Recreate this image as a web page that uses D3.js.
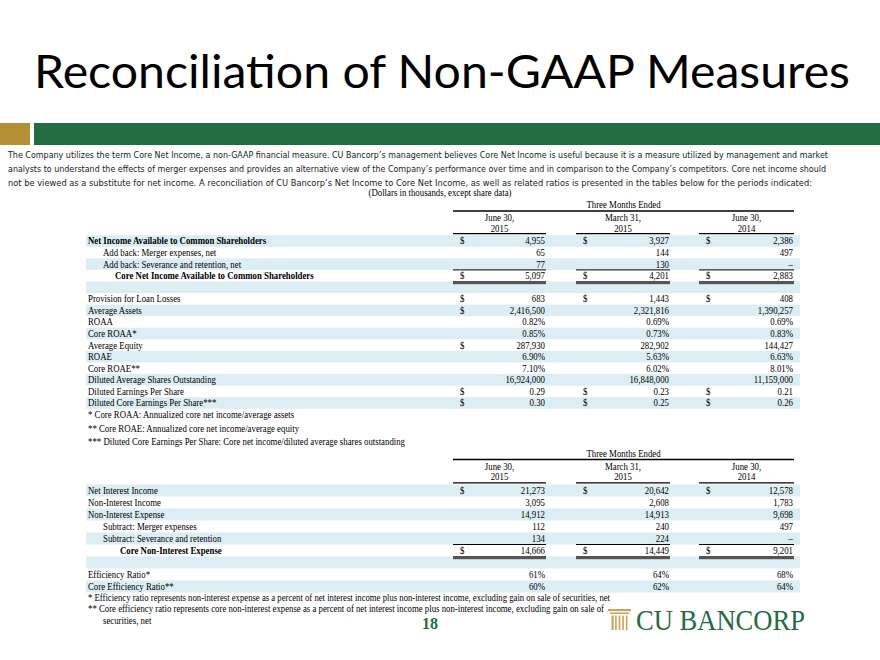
<!DOCTYPE html>
<html><head><meta charset="utf-8">
<script src="https://cdn.jsdelivr.net/npm/d3@7"></script>
<style>html,body{margin:0;padding:0;background:#fff;}svg{display:block;}</style>
</head><body>
<script>
// ---------- DATA ----------
const titleText = "Reconciliation of Non-GAAP Measures";
const introLines = [
  "The Company utilizes the term Core Net Income, a non-GAAP financial measure.  CU Bancorp\u2019s management believes Core Net Income is useful because it is a measure utilized by management and market",
  "analysts to understand the effects of merger expenses and provides an alternative view of the Company\u2019s performance over time and in comparison to the Company\u2019s competitors.  Core net income should",
  "not be viewed as a substitute for net income.  A reconciliation of CU Bancorp\u2019s Net Income to Core Net Income, as well as related ratios is presented in the tables below for the periods indicated:"
];
const unitsNote = "(Dollars in thousands, except share data)";
const groupHeader = "Three Months Ended";
const periodLabels = ["June 30,", "March 31,", "June 30,"];
const periodYears = ["2015", "2015", "2014"];

const t1Labels = [
  "Net Income Available to Common Shareholders",
  "Add back:  Merger expenses, net",
  "Add back:  Severance and retention, net",
  "Core Net Income Available to Common Shareholders",
  "",
  "Provision for Loan Losses",
  "Average Assets",
  "ROAA",
  "Core ROAA*",
  "Average Equity",
  "ROAE",
  "Core ROAE**",
  "Diluted Average Shares Outstanding",
  "Diluted Earnings Per Share",
  "Diluted Core Earnings Per Share***"
];
const t1Jun2015 = ["4,955","65","77","5,097","","683","2,416,500","0.82%","0.85%","287,930","6.90%","7.10%","16,924,000","0.29","0.30"];
const t1Mar2015 = ["3,927","144","130","4,201","","1,443","2,321,816","0.69%","0.73%","282,902","5.63%","6.02%","16,848,000","0.23","0.25"];
const t1Jun2014 = ["2,386","497","\u2013","2,883","","408","1,390,257","0.69%","0.83%","144,427","6.63%","8.01%","11,159,000","0.21","0.26"];
// which columns show a "$" sign, per row (0 none, 1 first column only, 3 all)
const t1Dollar = [3,0,0,3,0,3,1,0,0,1,0,0,0,3,3];
const t1Style  = ["bold","indent","indent","total","blank","","","","","","","","","",""];
const t1Notes = [
  "* Core ROAA: Annualized core net income/average assets",
  "** Core ROAE: Annualized core net income/average equity",
  "*** Diluted Core Earnings Per Share: Core net income/diluted average shares outstanding"
];

const t2Labels = [
  "Net Interest Income",
  "Non-Interest Income",
  "Non-Interest Expense",
  "Subtract:  Merger expenses",
  "Subtract:  Severance and retention",
  "Core Non-Interest Expense",
  "",
  "Efficiency Ratio*",
  "Core Efficiency Ratio**"
];
const t2Jun2015 = ["21,273","3,095","14,912","112","134","14,666","","61%","60%"];
const t2Mar2015 = ["20,642","2,608","14,913","240","224","14,449","","64%","62%"];
const t2Jun2014 = ["12,578","1,783","9,698","497","\u2013","9,201","","68%","64%"];
const t2Dollar = [3,0,0,0,0,3,0,0,0];
const t2Style  = ["","","","indent","indent","total","blank","",""];
const t2Notes = [
  "* Efficiency ratio represents non-interest expense as a percent of net interest income plus non-interest income, excluding gain on sale of securities, net",
  "** Core efficiency ratio represents core non-interest expense as a percent of net interest income plus non-interest income, excluding gain on sale of",
  "securities, net"
];
const pageNumber = "18";
const logoText = "CU BANCORP";

// ---------- DRAWING ----------
const W = 880, H = 660;
const GREEN = "#216c40", GOLD = "#b58f33", BLUE = "#dbeef4";
const SERIF = "'Liberation Serif','Times New Roman',serif";
const SANS = "'DejaVu Sans','Liberation Sans',sans-serif";

const svg = d3.select("body").append("svg").attr("width", W).attr("height", H);

function txt(x, y, s, o = {}) {
  const t = svg.append("text")
    .attr("transform", `translate(${x},${y}) scale(${o.sx || 1},1)`)
    .attr("text-anchor", o.anchor || "start")
    .attr("font-family", o.family || SERIF)
    .attr("font-size", o.size || 10)
    .attr("font-weight", o.weight || "normal")
    .attr("fill", o.fill || "#000")
    .text(s);
  if (o.len) t.attr("textLength", o.len).attr("lengthAdjust", "spacingAndGlyphs");
  return t;
}

// title
txt(34, 88, titleText, {family: "'Lato','Noto Sans',sans-serif", size: 46, len: 816, fill: "#000"});
// band
svg.append("rect").attr("x", 0).attr("y", 123).attr("width", 30).attr("height", 22).attr("fill", GOLD);
svg.append("rect").attr("x", 34).attr("y", 123).attr("width", W - 34).attr("height", 22).attr("fill", GREEN);
// intro paragraph
const introLen = [820, 818, 804];
introLines.forEach((l, i) => txt(8, 158 + i * 14, l, {family: SANS, size: 8.4, len: introLen[i], fill: "#1a1a1a"}));

txt(440, 196, unitsNote, {anchor: "middle", size: 10, sx: 0.88});

// column geometry
const cols = [{l: 453, r: 546}, {l: 576, r: 670}, {l: 699, r: 794}];
const bandX0 = 86, bandX1 = 800;
const SX = 0.88;

function drawTable(cfg) {
  const {labels, values, dollar, style, headTop, rowTop, rowH} = cfg;
  const n = labels.length;
  const y = d3.scaleBand().domain(d3.range(n)).range([rowTop, rowTop + n * rowH]).padding(0);

  // header
  txt((cols[0].l + cols[2].r) / 2, headTop, groupHeader, {anchor: "middle", size: 10, sx: SX});
  svg.append("line").attr("x1", cols[0].l).attr("x2", cols[2].r)
    .attr("y1", headTop + 3).attr("y2", headTop + 3).attr("stroke", "#000").attr("stroke-width", 1.6);
  cols.forEach((c, i) => {
    const cx = (c.l + c.r) / 2;
    txt(cx, headTop + 13, periodLabels[i], {anchor: "middle", size: 10, sx: SX});
    txt(cx, headTop + 23.5, periodYears[i], {anchor: "middle", size: 10, sx: SX});
    svg.append("line").attr("x1", c.l).attr("x2", c.r)
      .attr("y1", rowTop - 1.6).attr("y2", rowTop - 1.6).attr("stroke", "#000").attr("stroke-width", 1.3);
  });

  // bands
  svg.selectAll(null).data(d3.range(n).filter(i => i % 2 === 0)).enter().append("rect")
    .attr("x", bandX0).attr("width", bandX1 - bandX0)
    .attr("y", i => y(i)).attr("height", y.bandwidth()).attr("fill", BLUE);

  // rows
  labels.forEach((lab, i) => {
    const base = y(i) + y.bandwidth() / 2 + 3.4;
    const st = style[i];
    if (st === "blank") return;
    let x = 88, weight = "normal";
    if (st === "indent") x = 103;
    if (st === "bold") weight = "bold";
    if (st === "total") { weight = "bold"; x = cfg.totalIndent; }
    txt(x, base, lab, {size: 10, weight, sx: SX});
    cols.forEach((c, j) => {
      const v = values[j][i];
      txt(c.r - 1, base, v, {anchor: "end", size: 10, sx: SX});
      if (dollar[i] === 3 || (dollar[i] === 1 && j === 0)) txt(c.l + 7, base, "$", {size: 10, sx: SX});
    });
    if (st === "total") {
      cols.forEach(c => {
        svg.append("line").attr("x1", c.l).attr("x2", c.r).attr("y1", y(i)).attr("y2", y(i))
          .attr("stroke", "#000").attr("stroke-width", 1);
        svg.append("rect").attr("x", c.l).attr("width", c.r - c.l)
          .attr("y", y(i) + y.bandwidth() - 0.5).attr("height", 3.2).attr("fill", "#555");
      });
    }
  });
  return y;
}

const y1 = drawTable({labels: t1Labels, values: [t1Jun2015, t1Mar2015, t1Jun2014], dollar: t1Dollar,
  style: t1Style, headTop: 208, rowTop: 235.2, rowH: 11.57, totalIndent: 115});
t1Notes.forEach((s, i) => txt(88, 418 + i * 13.5, s, {size: 10, sx: SX}));

const y2 = drawTable({labels: t2Labels, values: [t2Jun2015, t2Mar2015, t2Jun2014], dollar: t2Dollar,
  style: t2Style, headTop: 456.5, rowTop: 484.5, rowH: 12, totalIndent: 120});
txt(88, 600.5, t2Notes[0], {size: 9.5, len: 522});
txt(88, 611.5, t2Notes[1], {size: 9.5, len: 516});
txt(103, 624, t2Notes[2], {size: 10, sx: SX});

// page number
txt(430, 629, pageNumber, {anchor: "middle", size: 16, weight: "bold", fill: GREEN});

// logo
const LG = "#c9a45c";
const logo = svg.append("g");
logo.append("rect").attr("x", 608).attr("y", 609).attr("width", 23).attr("height", 2.2).attr("fill", LG);
logo.append("rect").attr("x", 610).attr("y", 612.5).attr("width", 19).attr("height", 1.5).attr("fill", LG);
d3.range(5).forEach(k => logo.append("rect").attr("x", 611.5 + k * 3.6).attr("y", 615.5)
  .attr("width", k === 0 ? 2.2 : 1.6).attr("height", 14.5).attr("fill", LG));
txt(636, 630, logoText, {size: 29, fill: GREEN, len: 169});
</script>
</body></html>
